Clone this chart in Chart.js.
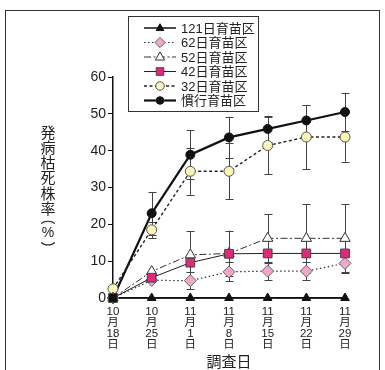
<!DOCTYPE html>
<html>
<head>
<meta charset="utf-8">
<script src="https://cdn.jsdelivr.net/npm/chart.js@4/dist/chart.umd.min.js"></script>
<style>
  html, body { margin: 0; padding: 0; background: #fff; }
  #wrap { width: 385px; height: 370px; }
</style>
</head>
<body>
<div id="wrap"><canvas id="chart" width="385" height="370"></canvas></div>
<script>
// survey dates (multi-line tick labels)
var categories = [
    ['10', '月', '18', '日'],
    ['10', '月', '25', '日'],
    ['11', '月', '1', '日'],
    ['11', '月', '8', '日'],
    ['11', '月', '15', '日'],
    ['11', '月', '22', '日'],
    ['11', '月', '29', '日']
];
var seriesNames = ['121日育苗区', '62日育苗区', '52日育苗区', '42日育苗区', '32日育苗区', '慣行育苗区'];

// disease / dead plant rate (%)
var d121 = [0, 0, 0, 0, 0, 0, 0];
var d62 = [0, 4.8, 4.7, 7.1, 7.3, 7.3, 9.4];
var d52 = [0, 7.2, 11.7, 12.1, 16.2, 16.2, 16.2];
var d42 = [0, 5.5, 9.6, 12.0, 12.1, 12.1, 12.1];
var d32 = [2.5, 18.5, 34.4, 34.4, 41.4, 43.7, 43.7];
var dKanko = [0, 23.0, 38.9, 43.6, 45.9, 48.2, 50.5];

// error bar half widths
var e121 = [0, 0, 0, 0, 0, 0, 0];
var e62 = [0, 0, 2.3, 2.6, 2.4, 2.4, 2.3];
var e52 = [0, 0, 6.5, 6.2, 6.6, 9.3, 9.3];
var e42 = [0, 0, 0, 0, 0, 0, 0];
var e32 = [0, 2.2, 6.4, 7.6, 7.8, 8.7, 6.7];
var eKanko = [0, 5.8, 6.6, 5.6, 3.6, 4.2, 5.2];

var yTicks = [0, 10, 20, 30, 40, 50, 60];

var FONT = "'Liberation Sans', 'Noto Sans CJK JP', sans-serif";
var JP = "'Noto Sans CJK JP', sans-serif";

var datasets = [
    {label: seriesNames[0], data: d121, err: e121, borderColor: '#111', borderWidth: 1.5, borderDash: [],
     pointStyle: 'triangle', pointRadius: 5, pointBackgroundColor: '#111', pointBorderColor: '#111', order: 3},
    {label: seriesNames[1], data: d62, err: e62, borderColor: '#333', borderWidth: 1.2, borderDash: [1.5, 2.5],
     pointStyle: 'rectRot', pointRadius: 6, pointBackgroundColor: '#f4a6c8', pointBorderColor: '#666', order: 1},
    {label: seriesNames[2], data: d52, err: e52, borderColor: '#333', borderWidth: 1, borderDash: [7, 2.5, 2, 2.5],
     pointStyle: 'triangle', pointRadius: 6, pointBackgroundColor: '#fff', pointBorderColor: '#333', order: 2},
    {label: seriesNames[3], data: d42, err: e42, borderColor: '#222', borderWidth: 1, borderDash: [],
     pointStyle: 'rect', pointRadius: 6.2, pointBackgroundColor: ['#111', '#e0287c', '#e0287c', '#e0287c', '#e0287c', '#e0287c', '#e0287c'],
     pointBorderColor: '#444', order: 0},
    {label: seriesNames[4], data: d32, err: e32, borderColor: '#222', borderWidth: 1.4, borderDash: [3, 2.5],
     pointStyle: 'circle', pointRadius: 5, pointBackgroundColor: '#fcf5b8', pointBorderColor: '#555', order: 4},
    {label: seriesNames[5], data: dKanko, err: eKanko, borderColor: '#111', borderWidth: 2.2, borderDash: [],
     pointStyle: 'circle', pointRadius: 4.5, pointBackgroundColor: '#111', pointBorderColor: '#111', order: 5}
];
datasets.forEach(function (ds) {
    ds.fill = false;
    ds.tension = 0;
    ds.clip = false;
    ds.pointBorderWidth = 1;
    ds.pointHoverRadius = ds.pointRadius;
});

function drawMarker(ctx, style, x, y, r, fill, stroke) {
    ctx.save();
    ctx.setLineDash([]);
    ctx.lineWidth = 1;
    ctx.fillStyle = fill;
    ctx.strokeStyle = stroke;
    ctx.beginPath();
    if (style === 'circle') {
        ctx.arc(x, y, r, 0, Math.PI * 2);
    } else if (style === 'triangle') {
        ctx.moveTo(x, y - r);
        ctx.lineTo(x + r * 0.9, y + r * 0.6);
        ctx.lineTo(x - r * 0.9, y + r * 0.6);
        ctx.closePath();
    } else if (style === 'rect') {
        var s = r * 0.72;
        ctx.rect(x - s, y - s, s * 2, s * 2);
    } else {
        ctx.moveTo(x, y - r);
        ctx.lineTo(x + r, y);
        ctx.lineTo(x, y + r);
        ctx.lineTo(x - r, y);
        ctx.closePath();
    }
    ctx.fill();
    ctx.stroke();
    ctx.restore();
}

var decorPlugin = {
    id: 'decor',
    beforeDatasetsDraw: function (chart) {
        // error bars under the lines and markers
        var ctx = chart.ctx, xs = chart.scales.x, ys = chart.scales.y;
        ctx.save();
        ctx.strokeStyle = '#444';
        ctx.lineWidth = 1;
        chart.data.datasets.forEach(function (ds) {
            ds.data.forEach(function (v, i) {
                var e = ds.err[i];
                if (!e) return;
                var x = Math.round(xs.getPixelForValue(i)) + 0.5;
                var y1 = ys.getPixelForValue(v + e), y2 = ys.getPixelForValue(v - e);
                ctx.beginPath();
                ctx.moveTo(x, y1); ctx.lineTo(x, y2);
                ctx.moveTo(x - 4, Math.round(y1) + 0.5); ctx.lineTo(x + 4, Math.round(y1) + 0.5);
                ctx.moveTo(x - 4, Math.round(y2) + 0.5); ctx.lineTo(x + 4, Math.round(y2) + 0.5);
                ctx.stroke();
            });
        });
        ctx.restore();
    },
    afterDraw: function (chart) {
        var ctx = chart.ctx;
        ctx.save();
        // outer frame
        ctx.strokeStyle = '#333';
        ctx.lineWidth = 1;
        ctx.strokeRect(5.5, 10.5, 374, 370);

        // y axis title, stacked vertically
        ctx.fillStyle = '#222';
        ctx.font = '15px ' + JP;
        ctx.textAlign = 'center';
        ctx.textBaseline = 'middle';
        var chars = ['発', '病', '枯', '死', '株', '率'];
        chars.forEach(function (c, i) {
            ctx.fillText(c, 48, 132 + i * 15.2);
        });
        ctx.font = '14px ' + FONT;
        ctx.fillText('%', 48, 233);
        ctx.save();
        ctx.translate(48, 222);
        ctx.rotate(Math.PI / 2);
        ctx.fillText('(', 0, 0);
        ctx.restore();
        ctx.save();
        ctx.translate(48, 244);
        ctx.rotate(Math.PI / 2);
        ctx.fillText(')', 0, 0);
        ctx.restore();

        // legend box
        ctx.fillStyle = '#fff';
        ctx.fillRect(128.5, 16.5, 130, 95);
        ctx.strokeStyle = '#333';
        ctx.strokeRect(128.5, 16.5, 130, 95);
        chart.data.datasets.forEach(function (ds, i) {
            var y = 28 + i * 14.5;
            ctx.save();
            ctx.strokeStyle = ds.borderColor;
            ctx.lineWidth = ds.borderWidth;
            ctx.setLineDash(ds.borderDash);
            ctx.beginPath();
            ctx.moveTo(144, y); ctx.lineTo(176, y);
            ctx.stroke();
            ctx.restore();
            var fill = Array.isArray(ds.pointBackgroundColor) ? ds.pointBackgroundColor[1] : ds.pointBackgroundColor;
            drawMarker(ctx, ds.pointStyle, 160, y, ds.pointRadius * 0.85, fill, ds.pointBorderColor);
            ctx.fillStyle = '#222';
            ctx.font = '13px ' + FONT;
            ctx.textAlign = 'left';
            ctx.textBaseline = 'middle';
            ctx.fillText(ds.label, 181, y + 1);
        });
        ctx.restore();
    }
};

var ctx = document.getElementById('chart').getContext('2d');
new Chart(ctx, {
    type: 'line',
    data: {labels: categories, datasets: datasets},
    options: {
        responsive: false,
        animation: false,
        layout: {padding: {left: 5, right: 40, top: 77, bottom: 0}},
        plugins: {legend: {display: false}, tooltip: {enabled: false}},
        scales: {
            x: {
                offset: false,
                grid: {display: true, drawOnChartArea: false, drawTicks: false},
                border: {display: true, color: '#111', width: 1.5},
                ticks: {
                    color: '#222', autoSkip: false, maxRotation: 0, padding: 8,
                    font: {size: 11.5, family: FONT, lineHeight: '11.2px'}
                },
                title: {
                    display: true, text: '調査日', color: '#222',
                    font: {size: 15, family: JP}, padding: {top: 0, bottom: 0}
                },
                afterFit: function (s) { s.height = 72; }
            },
            y: {
                min: 0, max: 60,
                afterBuildTicks: function (s) { s.ticks = yTicks.map(function (v) { return {value: v}; }); },
                grid: {display: true, drawOnChartArea: false, drawTicks: true, tickLength: 5, color: '#111'},
                border: {display: true, color: '#111', width: 1.5},
                ticks: {color: '#222', padding: 2, font: {size: 14, family: FONT}},
                afterFit: function (s) { s.width = 108; }
            }
        }
    },
    plugins: [decorPlugin]
});
</script>
</body>
</html>
